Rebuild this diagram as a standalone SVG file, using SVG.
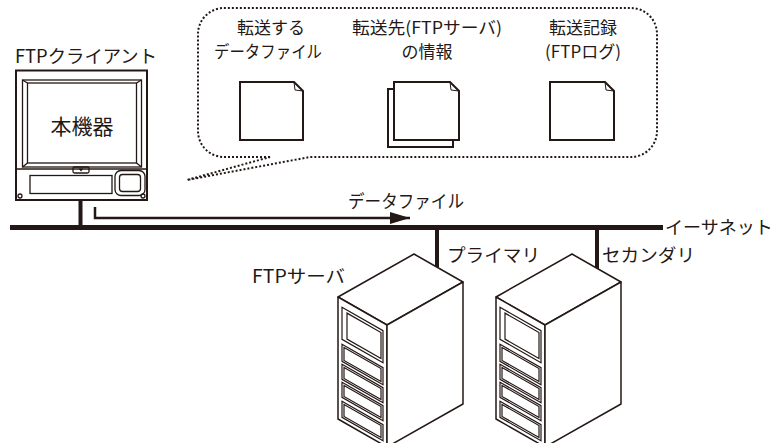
<svg xmlns="http://www.w3.org/2000/svg" width="779" height="443" viewBox="0 0 779 443">
  <style>
    .t { font-family: "Noto Sans CJK JP", "Noto Sans", sans-serif; font-size: 18px; fill: #231815; }
    .c { font-size: 17px; }
    .ln { fill: none; stroke: #231815; stroke-width: 1.3; }
    .face { fill: #ffffff; stroke: #231815; stroke-width: 1.5; stroke-linejoin: round; }
    .dtl { fill: none; stroke: #231815; stroke-width: 1.2; vector-effect: non-scaling-stroke; }
    .doc { fill: #ffffff; stroke: #231815; stroke-width: 2; stroke-linejoin: miter; }
    .bus { stroke: #231815; stroke-width: 4; }
    .dots { fill: none; stroke: #231815; stroke-width: 2; stroke-dasharray: 2 2; }
  </style>
  <defs>
    <marker id="arrowhead" markerWidth="20" markerHeight="12" refX="20" refY="6" orient="auto" markerUnits="userSpaceOnUse">
      <path d="M0 0 L20 6 L0 12 Z" fill="#231815"/>
    </marker>
    <!-- one server cabinet, isometric -->
    <g id="cabinet">
      <polygon class="face" points="338,297 414,254 463,282 387,325"/>
      <polygon class="face" points="338,297 387,325 387,447 338,419"/>
      <polygon class="face" points="387,325 463,282 463,404 387,447"/>
      <g transform="matrix(1,0.57,0,1,338,297)">
        <rect class="dtl" x="4" y="8" width="41" height="32"/>
        <rect class="dtl" x="9" y="11" width="34" height="26"/>
        <rect class="dtl" x="4" y="45" width="41" height="17"/>
        <rect class="dtl" x="6" y="47" width="37" height="13"/>
        <rect class="dtl" x="4" y="65" width="41" height="15"/>
        <rect class="dtl" x="6" y="67" width="37" height="11"/>
        <rect class="dtl" x="4" y="83" width="41" height="15"/>
        <rect class="dtl" x="6" y="85" width="37" height="11"/>
        <rect class="dtl" x="4" y="102" width="41" height="16"/>
        <rect class="dtl" x="6" y="104" width="37" height="12"/>
      </g>
    </g>
  </defs>

  <!-- connectors: Ethernet bus, drops and transfer arrow -->
  <g id="connectors">
    <line class="bus" x1="10" y1="227.5" x2="663" y2="227.5" style="stroke-width:5"/>
    <line class="bus" x1="80.5" y1="200" x2="80.5" y2="227"/>
    <line class="bus" x1="437" y1="227" x2="437" y2="267"/>
    <line class="bus" x1="597" y1="227" x2="597" y2="269"/>
    <path d="M95 207 V218 H410" fill="none" stroke="#231815" stroke-width="2.5" marker-end="url(#arrowhead)"/>
    <!-- callout balloon with tail -->
    <path class="dots" d="M270 157 H224 A26 26 0 0 1 198 131 V34 A26 26 0 0 1 224 8 H631 A26 26 0 0 1 657 34 V131 A26 26 0 0 1 631 157 H310 L187 180 Z"/>
  </g>

  <!-- FTP client (this instrument) -->
  <g id="client">
    <text class="t" x="15" y="63" textLength="142" lengthAdjust="spacingAndGlyphs">FTPクライアント</text>
    <rect x="16" y="70.5" width="131" height="129.5" fill="#ffffff" stroke="#231815" stroke-width="2"/>
    <rect class="ln" x="22.5" y="80" width="119" height="87"/>
    <rect class="ln" x="27.5" y="83" width="109" height="80"/>
    <path class="ln" d="M22.5 80 L27.5 83 M141.5 80 L136.5 83 M22.5 167 L27.5 163 M141.5 167 L136.5 163"/>
    <line class="ln" x1="16" y1="169" x2="147" y2="169"/>
    <rect class="ln" x="73" y="167" width="16" height="6" rx="1.5"/>
    <path d="M78.5 168.5 L83.5 168.5 L81 171.5 Z" fill="#231815"/>
    <rect class="ln" x="30" y="175.5" width="82" height="18"/>
    <rect class="ln" x="115" y="170.5" width="30" height="25" rx="6"/>
    <rect class="ln" x="119.5" y="174.5" width="21" height="17" rx="3"/>
    <circle class="ln" cx="20" cy="196" r="2"/>
    <circle class="ln" cx="143" cy="196" r="2"/>
    <text class="t" x="82" y="134" text-anchor="middle" style="font-size:21px">本機器</text>
  </g>

  <!-- files kept on the client -->
  <g id="file-data">
    <text class="t c" x="271" y="34" text-anchor="middle">転送する</text>
    <text class="t c" x="268" y="58" text-anchor="middle" textLength="108" lengthAdjust="spacingAndGlyphs">データファイル</text>
    <path class="doc" d="M240 82 H294 L303 91 V140 H240 Z"/>
    <path class="ln" d="M294 82 L295 90 L303 91" style="stroke-width:1"/>
  </g>

  <g id="file-server-info">
    <text class="t c" x="427" y="34" text-anchor="middle" textLength="150" lengthAdjust="spacingAndGlyphs">転送先(FTPサーバ)</text>
    <text class="t c" x="427" y="58" text-anchor="middle">の情報</text>
    <path class="doc" d="M394 89 H388 V147 H453 V140"/>
    <path class="doc" d="M394 82 H450 L459 91 V140 H394 Z"/>
    <path class="ln" d="M450 82 L451 90 L459 91" style="stroke-width:1"/>
  </g>

  <g id="file-log">
    <text class="t c" x="583" y="34" text-anchor="middle">転送記録</text>
    <text class="t c" x="583" y="58" text-anchor="middle">(FTPログ)</text>
    <path class="doc" d="M550 82 H605 L614 91 V140 H550 Z"/>
    <path class="ln" d="M605 82 L606 90 L614 91" style="stroke-width:1"/>
  </g>

  <!-- transfer label and network name -->
  <g id="labels">
    <text class="t" x="348" y="208" textLength="116" lengthAdjust="spacingAndGlyphs">データファイル</text>
    <text class="t" x="665" y="234">イーサネット</text>
    <text class="t" x="252" y="283" textLength="93" lengthAdjust="spacingAndGlyphs">FTPサーバ</text>
    <text class="t" x="447" y="262" textLength="93" lengthAdjust="spacingAndGlyphs">プライマリ</text>
    <text class="t" x="602" y="262" textLength="93" lengthAdjust="spacingAndGlyphs">セカンダリ</text>
  </g>

  <!-- FTP servers -->
  <g id="server-primary">
    <use href="#cabinet"/>
  </g>
  <g id="server-secondary">
    <use href="#cabinet" transform="translate(158,0)"/>
  </g>
</svg>
